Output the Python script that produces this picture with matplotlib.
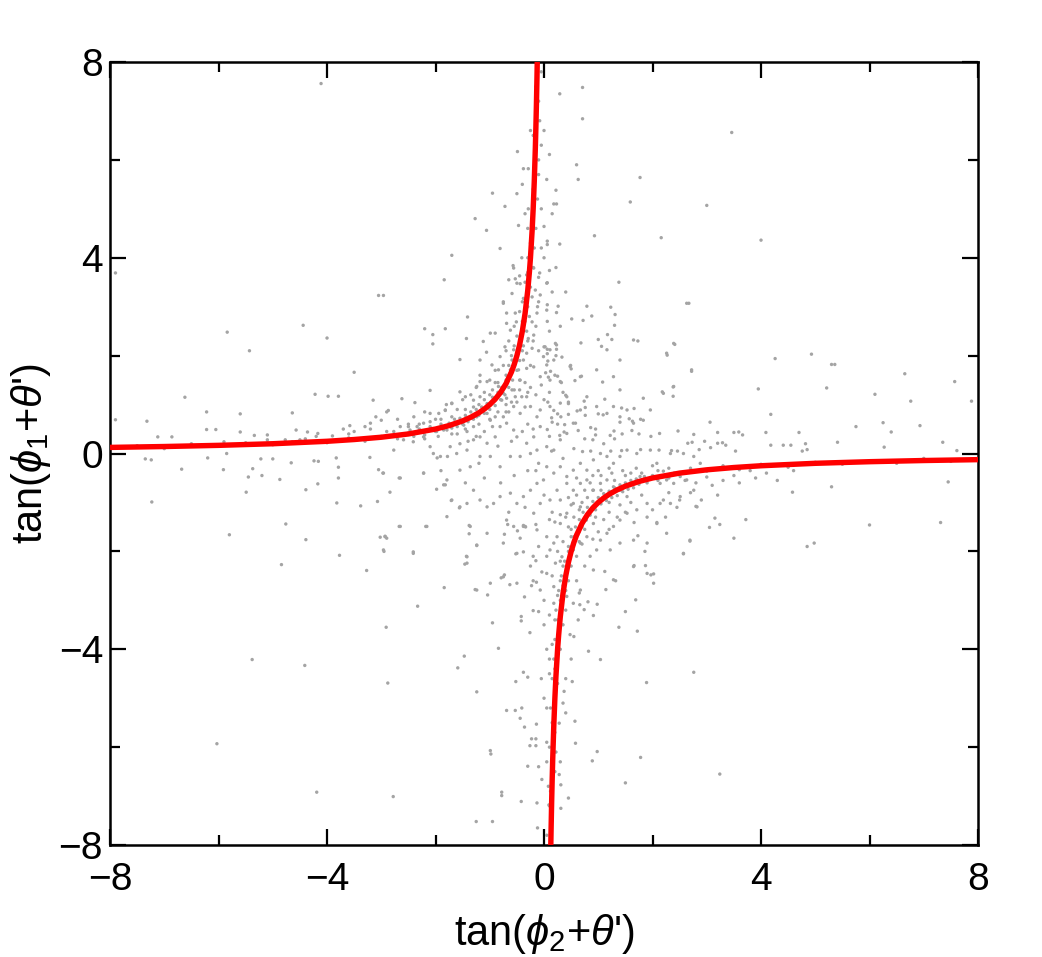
import matplotlib
matplotlib.use("Agg")
import matplotlib.pyplot as plt
from matplotlib.ticker import MultipleLocator

plt.rcParams['font.family'] = ['Liberation Sans', 'DejaVu Sans']
plt.rcParams['mathtext.fontset'] = 'custom'
plt.rcParams['mathtext.rm'] = 'Liberation Sans'
plt.rcParams['mathtext.it'] = 'Liberation Sans:italic'
plt.rcParams['mathtext.fallback'] = 'cm'

# ---- measured scatter cloud (gray dots) ----
cloud_pts = [
    # upper-left outliers
    (-4.11,7.56),(-7.9,3.69),(-0.49,6.17),(-0.38,5.82),(-0.29,5.82),(-0.95,5.32),(-0.5,5.31),(-0.72,5.05),
    (-0.29,5.0),(-1.27,4.8),(-1.06,4.56),(-0.47,4.66),(-0.81,4.19),(-1.7,4.05),(-1.84,3.55),(-3.05,3.23),
    (-2.96,3.23),(-0.57,3.84),(-0.53,3.57),(-0.44,3.47),(-0.75,3.1),(-1.41,2.79),(-4.44,2.62),(-5.84,2.48),
    (-4.0,2.36),(-5.43,2.1),(-2.2,2.55),(-1.82,2.55),(-2.05,2.43),(-2.05,2.24),(-1.43,2.35),(-1.55,1.92),
    (-1.06,2.07),(-1.18,1.6),(-3.5,1.66),(-2.1,1.29),(-6.62,1.15),(-4.22,1.21),(-3.98,1.17),(-3.79,1.17),
    (-2.62,1.12),(-2.38,1.04),(-6.22,0.85),(-5.6,0.81),(-4.64,0.83),(-7.32,0.66),(-7.9,0.69),(-3.58,0.57),
    (-3.7,0.5),(-2.87,0.88),(-1.82,0.88),(-1.7,1.02),(-6.22,0.49),(-6.05,0.49),(-5.34,0.37),(-7.12,0.34),
    (-4.64,0.24),(-4.77,0.28),(-5.1,0.38),(-5.1,0.28),(-5.1,0.21),(-5.9,0.24),(-5.6,0.44),(-4.57,0.48),
    (-4.36,0.44),(-4.17,0.41),(-3.2,0.62),(-3.1,0.75),(-3.0,0.68),(-2.9,0.85),(-3.3,0.55),(-6.86,0.34),
    (-3.9,0.36),(-3.6,0.4),(-3.4,0.3),(-3.15,1.09),(-2.4,0.75),(-2.2,0.85),(-2.0,0.7),(-1.8,1.0),(-1.6,0.9),
    (-1.5,1.1),(-1.35,1.2),(-1.25,1.35),(-1.1,1.25),(-1.0,1.5),(-0.9,1.7),(-0.85,1.45),(-0.75,1.8),(-0.7,2.1),
    (-0.65,2.3),(-0.6,2.0),(-0.55,2.6),(-0.5,2.4),(-0.45,2.9),(-0.4,3.1),(-0.4,2.7),(-0.3,3.7),(-0.25,4.3),
    (-0.3,4.6),(-0.2,5.4),(-0.1,5.7),(-0.15,6.2),(-0.05,5.0),(-0.05,4.2),(-0.1,3.6),(-0.12,3.0),(-2.9,0.45),
    (-3.2,0.5),(-3.5,0.45),(-4.2,0.35),(-4.4,0.3),(-2.5,0.6),(-2.7,0.7),
    # upper-left band
    (-2.5,0.42),(-2.3,0.5),(-2.2,0.38),(-2.1,0.55),(-2.0,0.45),(-1.9,0.6),(-1.85,0.48),(-1.75,0.62),(-1.7,0.52),
    (-1.65,0.7),(-1.6,0.55),(-1.55,0.72),(-1.5,0.6),(-1.45,0.78),(-1.4,0.65),(-1.35,0.85),(-1.3,0.7),(-1.25,0.9),
    (-1.2,0.78),(-1.15,0.95),(-1.1,0.82),(-1.05,1.02),(-1.0,0.9),(-0.95,1.15),(-0.9,0.98),(-0.85,1.25),(-0.8,1.1),
    (-0.78,1.35),(-0.72,1.2),(-0.7,1.5),(-0.65,1.35),(-0.62,1.65),(-0.58,1.5),(-0.55,1.85),(-0.5,1.7),(-0.48,2.1),
    (-0.45,1.9),(-0.42,2.4),(-0.38,2.2),(-0.35,2.7),(-0.32,2.5),(-0.3,3.0),(-0.27,2.8),(-0.25,3.4),(-0.22,3.2),
    (-0.2,3.8),(-0.18,4.2),(-0.15,4.6),(-0.12,5.2),(-0.1,6.0),(-0.08,6.8),(-0.65,1.8),(-0.95,1.3),(-1.2,1.0),
    (-0.9,0.75),(-1.3,0.55),(-1.6,0.4),(-0.7,1.0),(-0.55,1.3),(-0.45,1.5),(-2.7,0.3),(-3.0,0.35),(-3.3,0.25),
    (-3.6,0.32),(-4.0,0.22),(-4.5,0.28),(-5.0,0.18),(-5.5,0.22),(-6.0,0.15),(-6.5,0.2),(-7.0,0.1),(-7.5,0.16),
    (-0.3,4.0),(-0.2,5.0),(-0.35,3.5),(-0.1,7.2),(-0.05,7.8),(-0.15,7.5),(-0.2,6.5),
    (-0.45,1.3),(-0.35,1.45),(-0.25,1.35),(-0.15,1.2),(-0.6,1.05),(-0.3,0.6),(-0.2,0.5),(-0.4,0.45),(-0.6,0.25),
    (-0.75,0.75),(-0.95,0.55),(-1.1,0.45),(-1.25,0.35),(-1.4,0.25),(-1.55,0.2),(-0.85,0.85),(-1.0,1.2),(-0.65,0.85),
    (-0.35,0.95),(-0.25,1.8),(-0.3,2.3),(-0.15,2.6),(-0.1,2.1),(-0.05,1.4),(0.0,1.1),(0.1,1.25),(0.2,1.6),
    (0.35,1.25),(0.25,0.6),(0.45,0.8),(0.1,0.35),(-0.1,3.1),(-0.2,2.3),(-0.4,2.1),(-0.55,2.2),(-0.7,1.6),
    (-0.9,1.45),(-1.1,1.1),(-1.3,0.95),(-1.45,0.9),(-1.7,0.75),(-1.9,0.7),(-2.1,0.65),(-2.3,0.6),(-2.5,0.55),
    (-0.3,1.25),(-0.5,1.05),(-0.7,0.85),(-1.0,0.7),(-1.2,0.6),(-1.45,0.5),(-1.7,0.4),(-1.95,0.35),(-2.2,0.3),
    (-2.4,0.35),(-0.4,5.5),(-0.25,6.6),(-0.05,6.3),(0.05,5.6),(0.15,4.9),(-0.35,4.9),(0.0,4.0),(0.1,2.5),
    (0.3,2.6),(0.4,3.3),(0.15,3.3),
    # upper-right
    (0.71,7.48),(0.29,7.35),(0.71,6.84),(0.0,6.6),(3.46,6.56),(0.1,6.11),(0.6,5.9),(0.63,5.6),(1.77,5.64),
    (0.22,5.38),(0.18,5.1),(0.23,5.1),(1.59,5.14),(3.0,5.07),(0.0,4.64),(0.93,4.45),(2.16,4.41),(4.0,4.36),
    (0.06,4.34),(0.06,4.27),(0.29,4.28),(0.1,3.74),(0.22,3.8),(0.06,3.49),(1.38,3.5),(0.06,3.04),(0.26,3.01),
    (0.79,3.01),(1.23,2.99),(0.23,2.88),(2.67,3.07),(0.88,2.81),(1.31,2.84),(0.51,2.75),(0.72,2.72),(0.06,2.7),
    (1.3,2.62),(1.17,2.43),(1.0,2.33),(1.25,2.33),(1.73,2.3),(0.68,2.26),(0.0,2.18),(0.06,2.13),(0.23,2.22),
    (0.23,2.13),(1.06,2.19),(2.41,2.23),(0.06,2.04),(0.22,2.0),(0.33,1.97),(2.27,2.01),(4.26,1.94),(4.93,2.03),
    (5.3,1.82),(5.36,1.82),(0.07,1.89),(0.49,1.8),(0.5,1.73),(2.72,1.68),(6.65,1.63),(7.57,1.47),(0.03,1.65),
    (0.12,1.68),(0.08,1.56),(0.25,1.58),(0.69,1.58),(0.57,1.49),(0.32,1.45),(1.08,1.46),(2.38,1.36),(2.38,1.17),
    (2.18,1.26),(3.95,1.32),(5.21,1.34),(6.1,1.21),(6.76,1.07),(7.88,1.07),(0.4,1.19),(0.45,1.05),(0.45,1.02),
    (1.12,1.11),(1.83,1.13),(0.07,1.05),(0.74,1.07),(0.76,0.94),(0.76,0.78),(0.61,0.87),(0.18,0.88),(0.25,0.81),
    (0.31,0.75),(1.0,0.81),(1.09,0.79),(1.43,0.93),(1.66,0.92),(0.14,0.73),(0.15,0.64),(0.38,0.59),(0.58,0.62),
    (1.4,0.64),(1.57,0.71),(1.63,0.66),(1.78,0.7),(3.06,0.64),(4.18,0.8),(6.25,0.63),(6.93,0.57),(5.75,0.55),
    (6.4,0.44),(0.06,0.49),(0.29,0.37),(0.37,0.44),(0.63,0.47),(0.86,0.53),(0.95,0.38),(0.9,0.28),(1.22,0.37),
    (1.29,0.46),(1.44,0.4),(1.62,0.47),(1.75,0.4),(1.97,0.35),(2.13,0.41),(2.47,0.46),(2.76,0.39),(3.2,0.43),
    (3.5,0.43),(3.59,0.44),(3.66,0.38),(4.09,0.43),(4.7,0.43),(5.41,0.23),(2.65,0.21),(2.73,0.23),(2.96,0.25),
    (3.07,0.12),(3.2,0.21),(3.29,0.22),(3.35,0.17),(4.18,0.17),(4.41,0.17),(4.55,0.17),(4.82,0.2),(6.27,0.13),
    (7.35,0.23),(7.61,0.06),(0.14,0.05),(0.71,0.04),(0.86,0.05),(1.23,0.05),(1.43,0.06),(1.78,0.08),(2.12,0.07),
    (2.35,0.06),(2.46,0.05),(2.86,0.08),(3.53,0.05),(4.76,0.05),(4.85,0.08),
    (0.55,0.1),(0.75,0.3),(0.95,0.5),(1.1,0.2),(1.3,0.3),
    # lower-left
    (-7.35,-0.11),(-7.24,-0.13),(-6.68,-0.32),(-7.23,-0.99),(-6.2,-0.09),(-5.91,-0.33),(-5.8,-1.66),(-5.85,0.0),
    (-5.37,-0.31),(-5.45,-0.48),(-5.49,-0.79),(-5.22,-0.11),(-5.0,-0.11),(-5.2,-0.45),(-4.87,-0.53),(-4.76,-1.44),
    (-4.84,-2.27),(-4.66,-0.19),(-4.24,-0.15),(-4.16,-0.16),(-4.39,-0.74),(-4.17,-0.62),(-4.39,-1.76),(-5.38,-4.21),
    (-4.41,-4.33),(-6.03,-5.93),(-4.19,-6.92),(-3.79,-0.28),(-3.79,-0.5),(-3.83,-0.09),(-3.82,-1.01),(-3.77,-2.08),
    (-3.38,-1.07),(-3.21,-0.08),(-3.05,-0.33),(-2.97,-0.4),(-3.07,-0.98),(-2.84,-0.79),(-2.67,-0.5),(-3.02,-1.71),
    (-2.93,-1.69),(-2.9,-1.73),(-2.95,-2.0),(-2.67,-1.49),(-2.41,-2.01),(-3.27,-2.39),(-2.18,-1.49),(-2.33,-3.12),
    (-2.91,-3.55),(-2.88,-4.69),(-2.78,-7.01),(-2.22,-0.4),(-1.98,-0.73),(-1.9,-0.35),(-1.97,-0.09),(-1.78,-0.06),
    (-1.82,-0.64),(-1.71,-0.96),(-1.56,-1.11),(-1.38,-1.47),(-1.38,-1.64),(-1.24,-1.88),(-1.43,-2.1),(-1.46,-2.26),
    (-1.84,-2.74),(-1.27,-2.78),(-1.04,-2.89),(-0.95,-3.46),(-0.84,-3.98),(-1.47,-4.14),(-1.59,-4.38),(-1.24,-4.87),
    (-0.69,-5.25),(-0.53,-5.25),(-0.41,-5.2),(-0.44,-5.41),(-0.36,-5.59),(-0.14,-5.53),(-0.23,-5.83),(-0.15,-5.83),
    (-0.26,-5.97),(-0.15,-5.97),(-0.99,-6.07),(-0.98,-6.14),(-0.3,-6.39),(-0.04,-6.66),(-0.78,-6.92),(-0.78,-6.99),
    (-0.42,-7.11),(-0.13,-7.14),(-1.25,-7.52),(-0.95,-7.52),(-0.12,-7.65),(-0.52,-4.66),(-0.38,-4.47),(-0.3,-4.57),
    (-0.42,-3.33),(-0.42,-3.42),(-0.26,-3.66),(-0.2,-3.21),(-0.1,-3.23),(-0.36,-2.93),(-0.23,-2.7),(-0.14,-2.63),
    (-0.79,-2.54),(-0.73,-2.48),(-0.63,-2.68),(-0.52,-2.05),(-0.38,-2.01),(-0.2,-2.1),(-0.15,-2.19),(-0.04,-2.42),
    (-0.73,-1.65),(-0.67,-1.45),(-0.49,-1.58),(-0.44,-1.73),(-0.38,-1.47),(-0.34,-1.5),(-0.15,-1.45),
    (-0.1,-0.2),(-0.3,-0.35),(-0.55,-0.45),(-0.8,-0.6),(-0.85,0.15),(-1.2,-0.2),(-1.45,-0.6),(-1.1,-0.5),
    (-0.65,-1.2),(-0.35,-1.1),(-0.15,-0.35),(-0.1,-1.9),(-0.25,-2.3),(-0.2,-2.6),(-0.05,-4.6),(-0.1,-6.4),
    # lower-right
    (7.45,-0.58),(6.0,-1.46),(7.31,-1.41),(4.58,-0.79),(5.3,-0.68),(4.98,-1.83),(4.85,-1.9),(3.72,-1.35),
    (3.5,-1.73),(3.24,-1.45),(3.05,-1.51),(3.15,-1.32),(2.69,-1.79),(2.57,-2.05),(2.8,-1.08),(2.24,-1.3),
    (2.08,-1.41),(1.66,-1.41),(1.73,-1.68),(1.86,-2.0),(1.66,-2.29),(1.87,-2.29),(1.97,-2.48),(2.02,-2.46),
    (1.32,-2.6),(1.14,-2.78),(1.69,-2.99),(1.5,-3.23),(1.38,-3.55),(1.72,-3.63),(0.98,-3.08),(0.81,-3.03),
    (0.82,-4.04),(1.04,-4.21),(2.76,-4.47),(1.89,-4.68),(0.52,-4.66),(0.57,-5.47),(0.58,-5.92),(0.98,-6.09),
    (0.89,-6.28),(1.78,-6.21),(3.24,-6.55),(1.5,-6.73),(0.45,-7.04),(0.31,-7.25),(0.31,-6.77),(0.28,-6.56),
    (0.09,-7.18),(0.37,-4.86),(0.35,-5.1),(0.28,-5.51),(0.66,-3.09),(0.63,-3.4),(0.74,-3.19),(0.91,-3.31),
    (0.55,-3.74),(0.48,-3.7),(1.12,-2.41),
    (2.6,-0.55),(2.8,-0.6),(3.0,-0.48),(3.1,-0.65),(3.3,-0.55),(3.5,-0.45),(3.6,-0.6),(3.8,-0.35),(3.9,-0.5),
    (4.1,-0.4),(4.3,-0.55),(4.6,-0.35),(2.7,-0.8),(2.9,-0.95),(3.2,-0.85),(2.5,-0.95),(2.3,-0.8),(2.45,-1.1),
    (2.2,-0.95),(2.0,-1.15),(1.9,-1.3),(1.8,-0.85),(1.6,-1.0),(1.5,-1.2),(1.4,-1.05),(1.35,-1.3),(1.2,-1.55),
    (1.1,-1.35),(1.0,-1.6),(0.9,-1.75),(0.85,-2.1),(0.75,-2.3),(0.7,-1.85),(0.6,-2.6),(0.65,-2.85),(0.45,-2.6),
    (0.4,-3.2),(0.25,-3.9),(0.2,-4.4),(0.5,-4.2),(0.4,-4.6),(0.15,-5.5),(0.22,-6.1),(0.05,-6.3),(0.12,-6.9),
    (0.0,-5.0),(0.05,-4.0),(0.1,-3.3),(0.0,-3.0),
    (0.35,-0.1),(0.0,-0.85),(0.15,-1.2),(0.3,-0.95),(0.45,-0.9),(0.6,-0.5),(0.8,-0.9),(1.0,-0.35),(1.2,-0.3),
    (1.45,-0.35),(1.7,-0.3),(2.0,-0.25),(2.3,-0.3),(0.5,-1.55),(0.35,-1.8),(0.65,-1.15),(0.85,-0.6),(1.05,-0.75),
    (1.2,-1.2),(0.75,-1.55),(0.6,-2.1),(0.5,-2.3),(0.4,-2.8),(0.3,-2.2),(0.25,-2.0),(0.15,-2.5),(0.05,-2.1),
    (0.0,-3.5),(0.1,-4.5),(0.25,-4.7),(0.4,-5.3),(0.2,-5.7),(0.05,-5.9),(0.3,-6.3),
    (0.3,-1.25),(0.2,-1.4),(0.1,-1.35),(0.9,-0.45),(1.05,-0.45),(1.25,-0.4),(1.5,-0.45),(1.8,-0.4),(2.1,-0.35),
    (2.4,-0.4),(0.75,-0.75),(0.6,-0.85),(0.5,-1.05),(0.4,-1.3),(0.65,-1.6),(0.55,-1.7),(0.45,-2.0),(0.35,-2.3),
    (0.3,-2.6),(0.25,-2.9),(0.2,-3.4),(0.15,-3.9),(0.1,-4.2),(0.05,-5.2),
    # lower-right band
    (2.5,-0.42),(2.3,-0.5),(2.2,-0.36),(2.1,-0.55),(2.0,-0.45),(1.9,-0.6),(1.85,-0.47),(1.75,-0.63),(1.7,-0.52),
    (1.65,-0.7),(1.6,-0.55),(1.55,-0.73),(1.5,-0.6),(1.45,-0.78),(1.4,-0.64),(1.35,-0.86),(1.3,-0.7),(1.25,-0.9),
    (1.2,-0.77),(1.15,-0.96),(1.1,-0.82),(1.05,-1.03),(1.0,-0.9),(0.95,-1.15),(0.9,-0.98),(0.85,-1.26),(0.8,-1.1),
    (0.78,-1.36),(0.72,-1.2),(0.7,-1.5),(0.65,-1.35),(0.62,-1.66),(0.58,-1.5),(0.55,-1.86),(0.5,-1.7),(0.48,-2.1),
    (0.45,-1.9),(0.42,-2.4),(0.38,-2.2),(0.35,-2.7),(0.32,-2.5),(0.3,-3.0),(0.27,-2.8),(0.25,-3.4),(0.22,-3.2),
    (0.2,-3.8),(0.18,-4.2),(0.15,-4.6),(0.12,-5.2),(0.1,-6.0),(0.08,-6.8),(0.65,-1.8),(0.95,-1.3),(1.2,-1.0),
    (0.9,-0.75),(1.3,-0.55),(1.6,-0.4),(0.7,-1.0),(0.55,-1.3),(0.45,-1.5),(2.7,-0.3),(3.0,-0.36),(3.3,-0.25),
    (3.6,-0.33),(4.0,-0.22),(4.5,-0.28),(5.0,-0.18),(5.5,-0.22),(6.0,-0.15),(6.5,-0.2),(7.0,-0.1),(7.5,-0.16),
    (0.3,-4.0),(0.2,-5.0),(0.35,-3.5),(0.1,-7.2),(0.05,-7.8),(0.15,-7.5),(0.2,-6.5),
    # central cloud
    (-0.56,3.79),(-0.41,4.0),(-0.32,3.65),(-0.45,3.63),(-0.19,3.79),(-0.08,3.69),(0.05,3.48),(-0.65,3.55),
    (-0.5,3.48),(-0.59,3.27),(-0.38,3.17),(-0.16,3.34),(-0.07,3.24),(-0.75,3.07),(-0.69,2.87),(-0.53,2.87),
    (-0.69,2.66),(-0.62,2.52),(-0.51,2.69),(-0.22,2.69),(-0.19,2.42),(-0.29,2.35),(-0.13,2.87),(0.05,2.93),
    (0.21,2.25),(0.11,2.12),(0.02,2.18),(-0.44,2.32),(-0.56,2.12),(-0.72,2.18),(-0.81,1.98),(-0.59,1.91),
    (-0.38,1.91),(-0.32,2.05),(-0.22,2.15),(-0.9,2.46),(-0.99,2.46),(-1.12,2.29),(-1.18,1.91),(-0.96,1.81),
    (-0.84,1.71),(-0.62,1.71),(-0.47,1.71),(-0.32,1.74),(-0.19,1.77),(-0.01,1.98),(0.05,1.81),(-0.07,1.57),
    (0.18,1.91),(0.48,1.78),(0.67,1.57),(0.3,1.47),(0.11,1.5),(-0.44,1.5),(-0.59,1.3),(-0.75,1.23),(-0.84,1.37),
    (-1.05,1.47),(-1.18,1.47),(-1.24,1.37),(-1.18,1.16),(-1.3,1.09),(-1.45,1.16),(-1.55,1.26),(-1.7,1.03),
    (-1.82,0.89),(-1.94,0.82),(-2.1,0.82),(-2.22,0.62),(-2.34,0.55),(-2.47,0.48),(-2.65,0.55),(-2.77,0.45),
    (-2.9,0.34),(-2.77,0.07),(-2.59,0.28),(-2.41,0.24),(-2.22,0.34),(-2.1,0.14),(-1.98,0.45),(-1.79,0.48),
    (-1.61,0.62),(-1.42,0.45),(-1.48,0.58),(-1.24,0.75),(-1.05,0.82),(-0.99,0.68),(-0.9,1.09),(-0.78,1.09),
    (-0.69,1.13),(-0.53,1.16),(-0.41,1.16),(-0.32,1.16),(-0.56,0.96),(-0.44,0.82),(-0.25,0.96),(-0.07,0.89),
    (0.11,0.96),(0.3,1.03),(0.42,1.16),(-0.13,0.75),(-0.07,0.55),(-0.19,0.34),(-0.32,0.21),(-0.5,0.34),
    (-0.56,0.48),(-0.69,0.62),(-0.81,0.55),(-0.9,0.34),(-1.05,0.21),(-1.18,0.34),(-1.3,0.28),(-1.42,0.07),
    (-1.61,0.0),(-1.73,0.14),(-1.91,-0.06),(-2.04,0.0),(-2.22,-0.4),(-2.65,-0.5),(-2.96,-0.4),(-1.79,-0.54),
    (-1.55,-0.34),(-1.36,-0.27),(-1.18,-0.06),(-0.99,-0.06),(-0.81,-0.27),(-0.62,-0.06),(-0.44,-0.06),(-0.25,0.0),
    (-0.13,0.07),(0.05,0.14),(0.18,0.07),(0.3,0.28),(0.42,0.41),(0.54,0.62),(0.67,0.89),(0.79,1.16),(0.97,0.96),
    (1.16,0.82),(1.28,0.96),(1.4,0.75),(1.53,0.89),(1.65,0.62),(1.83,0.68),(1.96,0.89),(2.2,1.23),(2.39,1.37),
    (1.4,1.3),(1.28,1.57),(0.97,1.71),(1.16,2.12),(1.4,1.91),(1.65,2.32),(2.26,2.05),(2.39,2.25),(2.63,3.07),
    (2.72,1.71),(2.76,-0.06),(2.88,-0.2),(2.57,0.0),(2.33,0.0),(2.08,-0.2),(1.96,0.07),(1.71,0.0),(1.53,0.07),
    (1.4,-0.06),(1.28,-0.2),(1.16,-0.06),(1.04,0.0),(0.91,-0.13),(0.79,-0.34),(0.67,-0.2),(0.54,-0.34),
    (0.42,-0.47),(0.3,-0.27),(0.18,-0.4),(0.05,-0.27),(-0.01,-0.54),(-0.13,-0.61),(-0.25,-0.75),(-0.38,-0.88),
    (-0.5,-1.02),(-0.62,-0.81),(-0.81,-0.88),(-0.93,-1.02),(-1.05,-1.09),(-1.18,-0.95),(-1.3,-0.75),(-1.42,-1.02),
    (-1.55,-1.09),(-1.7,-0.95),(-1.79,-1.29),(-1.85,-0.64),(-1.36,-1.49),(-1.24,-1.87),(-1.05,-1.63),(-0.69,-1.36),
    (-0.56,-1.49),(-0.38,-1.49),(-0.19,-1.22),(-0.07,-1.02),(0.11,-0.95),(0.24,-0.75),(0.42,-0.61),(0.54,-0.75),
    (0.67,-0.61),(0.79,-0.54),(0.91,-0.75),(1.04,-0.61),(1.16,-0.54),(1.28,-0.68),(1.4,-0.75),(1.53,-0.88),
    (1.65,-0.61),(1.77,-0.47),(1.9,-0.54),(2.02,-0.47),(2.14,-0.61),(2.26,-0.54),(2.39,-0.61),(2.51,-0.47),
    (2.63,-0.54),(2.76,-0.75),(2.82,-1.09),(2.51,-0.88),(2.33,-1.02),(2.14,-1.02),(1.9,-1.02),(1.71,-1.15),
    (1.53,-1.22),(1.4,-1.36),(1.28,-1.49),(1.16,-1.63),(1.04,-1.77),(0.91,-1.43),(0.79,-1.29),(0.67,-1.09),
    (0.54,-1.02),(0.42,-1.22),(0.3,-1.43),(0.24,-1.7),(0.18,-1.83),(0.11,-1.97),(0.33,-2.11),(0.21,-2.24),
    (0.42,-2.38),(0.54,-1.97),(0.67,-1.83),(0.79,-1.7),(0.97,-1.97),(1.22,-1.97),(1.4,-1.83),(1.65,-1.77),
    (1.9,-1.83),(2.08,-1.43),(2.26,-1.63),(2.57,-2.04),(2.69,-1.77),(0.91,-2.38),(1.28,-2.58),(1.65,-2.31),
    (1.9,-2.45),(2.02,-2.65),(0.05,-2.45),(-0.07,-2.79),(0.18,-2.72),(0.42,-2.92),(0.54,-3.06),(0.67,-2.79),
    (0.18,-3.06),(-0.5,-2.65),(-0.75,-2.52),(-0.99,-2.65),(-1.24,-2.79),(-1.42,-2.24),(-2.41,-2.04),(-2.65,-1.49),
    (-2.93,-1.7),(-2.96,-1.97),(-2.16,-1.49),(-1.42,-2.11),(-0.75,-1.83),(-0.5,-2.04),(-0.35,-1.49),(-0.13,-1.56),
    (0.05,-1.7),
]
cloud_x = [p[0] for p in cloud_pts]
cloud_y = [p[1] for p in cloud_pts]

# ---- red curve (upper-left branch, lower-right branch) ----
curve_left_x = [-8.0, -7.0, -6.0, -5.0, -4.0, -3.5, -3.0, -2.5, -2.0, -1.75, -1.5, -1.35, -1.2, -1.1, -1.0,
                -0.9, -0.8, -0.7, -0.6, -0.55, -0.5, -0.45, -0.4, -0.35, -0.3, -0.27, -0.25, -0.22, -0.2,
                -0.18, -0.16, -0.15, -0.14, -0.13, -0.125]
curve_left_y = [0.125, 0.143, 0.167, 0.2, 0.25, 0.286, 0.333, 0.4, 0.5, 0.571, 0.667, 0.741, 0.833, 0.909, 1.0,
                1.111, 1.25, 1.429, 1.667, 1.818, 2.0, 2.222, 2.5, 2.857, 3.333, 3.704, 4.0, 4.545, 5.0,
                5.556, 6.25, 6.667, 7.143, 7.692, 8.0]
curve_right_x = [8.0, 7.0, 6.0, 5.0, 4.0, 3.5, 3.0, 2.5, 2.0, 1.75, 1.5, 1.35, 1.2, 1.1, 1.0,
                 0.9, 0.8, 0.7, 0.6, 0.55, 0.5, 0.45, 0.4, 0.35, 0.3, 0.27, 0.25, 0.22, 0.2,
                 0.18, 0.16, 0.15, 0.14, 0.13, 0.125]
curve_right_y = [-0.125, -0.143, -0.167, -0.2, -0.25, -0.286, -0.333, -0.4, -0.5, -0.571, -0.667, -0.741, -0.833,
                 -0.909, -1.0, -1.111, -1.25, -1.429, -1.667, -1.818, -2.0, -2.222, -2.5, -2.857, -3.333, -3.704,
                 -4.0, -4.545, -5.0, -5.556, -6.25, -6.667, -7.143, -7.692, -8.0]

major_ticks = [-8, -4, 0, 4, 8]
tick_labels = ['\u22128', '\u22124', '0', '4', '8']

fig = plt.figure(figsize=(10.42, 9.57), dpi=100)
ax = fig.add_axes([0.1056, 0.1170, 0.8330, 0.8182])

ax.scatter(cloud_x, cloud_y, s=6, c='#a4a4a4', edgecolors='none', zorder=2)
ax.plot(curve_left_x, curve_left_y, color='#ff0000', lw=3.9, solid_capstyle='butt', zorder=3)
ax.plot(curve_right_x, curve_right_y, color='#ff0000', lw=3.9, solid_capstyle='butt', zorder=3)

ax.set_xlim(-8, 8)
ax.set_ylim(-8, 8)
ax.set_xticks(major_ticks)
ax.set_xticklabels(tick_labels)
ax.set_yticks(major_ticks)
ax.set_yticklabels(tick_labels)
ax.xaxis.set_minor_locator(MultipleLocator(2))
ax.yaxis.set_minor_locator(MultipleLocator(2))
ax.tick_params(which='both', direction='in', top=True, right=True, width=1.6, labelsize=28)
ax.tick_params(axis='x', which='major', pad=12)
ax.tick_params(axis='y', which='major', pad=5)
ax.tick_params(which='major', length=11.5)
ax.tick_params(which='minor', length=7)
for s in ax.spines.values():
    s.set_linewidth(1.8)

ax.set_xlabel("tan($\\phi_2$+$\\theta$')", fontsize=30, labelpad=10)
ax.set_ylabel("tan($\\phi_1$+$\\theta$')", fontsize=30, labelpad=4)

fig.savefig('out.png', dpi=100)
